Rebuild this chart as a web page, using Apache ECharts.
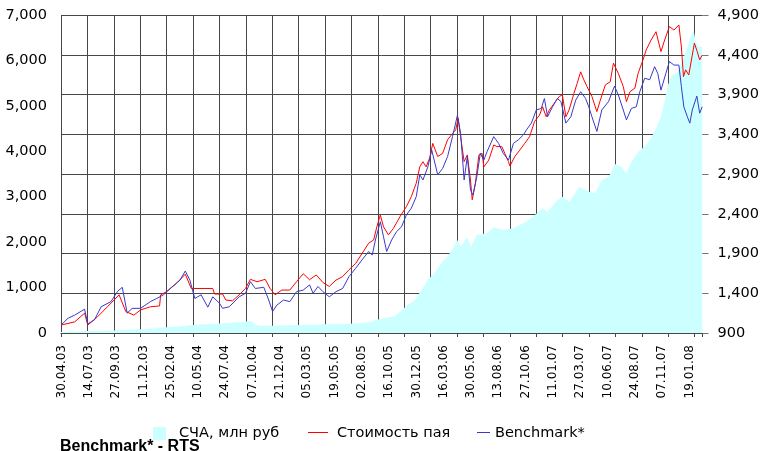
<!DOCTYPE html>
<html>
<head>
<meta charset="utf-8">
<title>СЧА и стоимость пая</title>
<script src="https://cdn.jsdelivr.net/npm/echarts@6/dist/echarts.min.js"></script>
<style>
    html, body { margin: 0; padding: 0; background: #fff; }
    #chart { width: 762px; height: 451px; }
</style>
</head>
<body>
<div id="chart"></div>
<script>
// tick labels, one every 75 days from 30.04.03
var tickLabels = ["30.04.03", "14.07.03", "27.09.03", "11.12.03", "25.02.04", "10.05.04",
    "24.07.04", "07.10.04", "21.12.04", "05.03.05", "19.05.05", "02.08.05", "16.10.05",
    "30.12.05", "16.03.06", "30.05.06", "13.08.06", "27.10.06", "11.01.07", "27.03.07",
    "10.06.07", "24.08.07", "07.11.07", "19.01.08"];

// СЧА, млн руб (left axis); x = days since 30.04.03
var navDays = [0, 40, 75, 110, 150, 190, 230, 260, 300, 340, 375, 410, 450, 490, 520, 540, 550, 560,
    600, 650, 700, 750, 800, 850, 880, 893, 921, 949, 968, 985, 1005, 1024, 1041, 1061, 1080, 1097,
    1111, 1125, 1136, 1153, 1164, 1181, 1209, 1229, 1256, 1285, 1321, 1346, 1368, 1382, 1405, 1424,
    1444, 1472, 1500, 1517, 1536, 1556, 1573, 1592, 1606, 1620, 1640, 1657, 1676, 1690, 1704, 1713,
    1724, 1732, 1752, 1769, 1780, 1788, 1797, 1802, 1811, 1821];
var navValues = [20, 35, 45, 50, 55, 70, 85, 100, 125, 150, 175, 195, 210, 230, 250, 265, 200, 160,
    160, 170, 180, 190, 200, 215, 240, 285, 330, 375, 505, 615, 725, 945, 1165, 1320, 1535, 1680,
    1825, 2045, 1900, 2120, 1900, 2155, 2195, 2330, 2265, 2305, 2450, 2595, 2745, 2670, 2890, 3000,
    2890, 3220, 3110, 3075, 3365, 3440, 3720, 3660, 3515, 3770, 3990, 4100, 4285, 4505, 4760, 5055,
    5455, 5640, 5750, 6080, 6300, 6520, 6665, 6445, 6300, 6300];

// Стоимость пая (right axis)
var priceDays = [0, 39, 67, 76, 104, 132, 165, 184, 207, 226, 254, 280, 283, 300, 328, 353, 370, 431,
    436, 459, 468, 487, 506, 524, 538, 557, 580, 594, 608, 627, 650, 669, 688, 706, 725, 744, 762,
    781, 800, 818, 837, 855, 874, 888, 897, 907, 916, 930, 944, 963, 981, 995, 1009, 1019, 1028,
    1037, 1047, 1056, 1070, 1084, 1098, 1112, 1121, 1128, 1135, 1145, 1154, 1163, 1168, 1177, 1187,
    1196, 1201, 1215, 1229, 1238, 1252, 1271, 1275, 1289, 1303, 1317, 1331, 1345, 1359, 1368, 1378,
    1387, 1401, 1415, 1424, 1434, 1443, 1457, 1466, 1476, 1485, 1494, 1508, 1522, 1532, 1546, 1560,
    1569, 1583, 1597, 1606, 1616, 1630, 1639, 1653, 1662, 1676, 1690, 1704, 1713, 1728, 1741, 1755,
    1762, 1768, 1774, 1783, 1793, 1799, 1807, 1814, 1821];
var priceValues = [1000, 1040, 1150, 1000, 1105, 1230, 1380, 1170, 1125, 1190, 1230, 1240, 1380, 1420,
    1525, 1640, 1460, 1460, 1390, 1390, 1315, 1305, 1380, 1460, 1575, 1545, 1575, 1460, 1380, 1440,
    1440, 1545, 1645, 1570, 1630, 1535, 1485, 1565, 1610, 1695, 1775, 1900, 2030, 2070, 2235, 2385,
    2235, 2135, 2215, 2365, 2490, 2615, 2785, 2990, 3055, 2990, 3100, 3285, 3120, 3160, 3330, 3410,
    3455, 3600, 3370, 3055, 3140, 2825, 2575, 2785, 3140, 3160, 2990, 3075, 3265, 3245, 3245, 3055,
    3000, 3120, 3200, 3285, 3370, 3560, 3640, 3745, 3620, 3705, 3790, 3875, 3895, 3620, 3705, 3915,
    4040, 4185, 4085, 4000, 3875, 3685, 3830, 4020, 4060, 4295, 4165, 4000, 3810, 3935, 3980, 4165,
    4335, 4460, 4585, 4690, 4440, 4565, 4755, 4710, 4775, 4500, 4125, 4210, 4145, 4395, 4545, 4440,
    4335, 4395];

// Benchmark* (right axis)
var benchDays = [0, 20, 39, 67, 76, 95, 114, 142, 160, 174, 188, 202, 226, 254, 272, 291, 310, 338,
    353, 366, 380, 398, 417, 431, 450, 459, 478, 506, 524, 538, 552, 576, 590, 601, 613, 632, 650,
    669, 688, 706, 716, 730, 744, 762, 781, 800, 818, 837, 855, 874, 884, 893, 907, 916, 925, 939,
    953, 967, 981, 995, 1009, 1019, 1028, 1042, 1053, 1070, 1084, 1098, 1112, 1126, 1135, 1145, 1154,
    1163, 1170, 1181, 1191, 1201, 1210, 1229, 1243, 1256, 1271, 1285, 1299, 1313, 1322, 1336, 1350,
    1364, 1373, 1382, 1396, 1410, 1420, 1434, 1448, 1462, 1476, 1490, 1499, 1508, 1522, 1536, 1555,
    1572, 1583, 1597, 1606, 1620, 1634, 1644, 1658, 1672, 1686, 1695, 1704, 1718, 1728, 1741, 1755,
    1762, 1769, 1779, 1786, 1793, 1806, 1814, 1821];
var benchValues = [1000, 1085, 1125, 1200, 1015, 1065, 1230, 1295, 1420, 1475, 1150, 1210, 1210, 1295,
    1335, 1380, 1460, 1565, 1680, 1565, 1335, 1380, 1225, 1355, 1275, 1210, 1230, 1355, 1400, 1545,
    1460, 1475, 1315, 1170, 1250, 1315, 1295, 1420, 1440, 1505, 1400, 1485, 1420, 1355, 1420, 1460,
    1610, 1715, 1820, 1925, 1880, 2070, 2300, 2110, 1925, 2070, 2175, 2235, 2385, 2470, 2615, 2890,
    2825, 2990, 3200, 2890, 2970, 3120, 3370, 3640, 3410, 2825, 3120, 2700, 2635, 2865, 3160, 3075,
    3180, 3370, 3285, 3160, 3075, 3285, 3330, 3390, 3455, 3540, 3705, 3725, 3850, 3620, 3745, 3850,
    3810, 3540, 3620, 3830, 3935, 3850, 3745, 3620, 3435, 3705, 3810, 4005, 3895, 3705, 3580, 3725,
    3745, 3935, 4105, 4085, 4250, 4165, 3955, 4165, 4315, 4270, 4270, 4000, 3745, 3620, 3540, 3705,
    3880, 3665, 3745];

function pairs(xs, ys) {
    return xs.map(function (x, i) { return [x, ys[i]]; });
}

var labelFont = "DejaVu Sans";
var lineGray = "#474747";
var priceColor = "#ff0000";
var benchColor = "#3a3ac8";
var navColor = "#ccffff";

var myChart = echarts.init(document.getElementById("chart"), null, { renderer: "canvas" });

var legendText = { fontFamily: labelFont, fontSize: 14.5, lineHeight: 13, color: "#000" };

var option = {
    animation: false,
    color: [navColor, priceColor, benchColor],
    grid: [
        { left: 61, top: 15, width: 651, height: 318 },
        // second grid only carries the date labels, spaced slightly wider than the grid lines
        { left: 61.5, top: 15, width: 628, height: 318 }
    ],
    xAxis: [
        {
            gridIndex: 0, type: "value", min: 0, max: 1822, interval: 75,
            axisLine: { show: true, onZero: false, lineStyle: { color: lineGray } },
            axisTick: { show: true, length: 4, lineStyle: { color: lineGray } },
            splitLine: { show: true, showMaxLine: false, lineStyle: { color: lineGray, width: 1 } },
            axisLabel: { show: false }
        },
        {
            gridIndex: 1, type: "value", min: 0, max: 1725, interval: 75,
            axisLine: { show: false }, axisTick: { show: false }, splitLine: { show: false },
            axisLabel: {
                rotate: 90, margin: 12, color: "#000", fontFamily: labelFont, fontSize: 12,
                formatter: function (v) {
                    return v % 75 === 0 && tickLabels[v / 75] ? tickLabels[v / 75] : "";
                }
            }
        }
    ],
    yAxis: [
        {
            gridIndex: 0, type: "value", min: 0, max: 7000, interval: 1000, position: "left",
            axisLine: { show: false }, axisTick: { show: false }, splitLine: { show: false },
            axisLabel: {
                margin: 14, color: "#000", fontFamily: labelFont, fontSize: 14.5,
                formatter: function (v) { return v.toLocaleString("en-US"); }
            }
        },
        {
            gridIndex: 0, type: "value", min: 900, max: 4900, interval: 500, position: "right",
            axisLine: { show: false },
            axisTick: { show: true, length: 6, lineStyle: { color: "#777" } },
            splitLine: { show: true, lineStyle: { color: lineGray, width: 1 } },
            axisLabel: {
                margin: 15, color: "#000", fontFamily: labelFont, fontSize: 14.5,
                formatter: function (v) { return v.toLocaleString("en-US"); }
            }
        },
        { gridIndex: 1, type: "value", min: 0, max: 1, show: false }
    ],
    legend: [
        {
            data: ["СЧА, млн руб"], left: 153, top: 426, padding: 0, icon: "rect",
            itemWidth: 13, itemHeight: 13, selectedMode: false,
            textStyle: Object.assign({ padding: [0, 0, 0, 8] }, legendText)
        },
        {
            data: ["Стоимость пая"], left: 308, top: 426, padding: 0,
            icon: "rect", itemWidth: 20, itemHeight: 13, selectedMode: false,
            itemStyle: { opacity: 0 },
            textStyle: Object.assign({ padding: [0, 0, 0, 4] }, legendText)
        },
        {
            data: ["Benchmark*"], left: 477, top: 426, padding: 0,
            icon: "rect", itemWidth: 13, itemHeight: 13, selectedMode: false,
            itemStyle: { opacity: 0 },
            textStyle: legendText
        }
    ],
    graphic: [
        // line keys for the two line series (the legend's own icons are transparent)
        { type: "line", shape: { x1: 308, y1: 432.5, x2: 328, y2: 432.5 }, style: { stroke: priceColor, lineWidth: 1 } },
        { type: "line", shape: { x1: 477, y1: 432.5, x2: 490, y2: 432.5 }, style: { stroke: benchColor, lineWidth: 1 } },
        {
            type: "text", left: 60, top: 439,
            style: { text: "Benchmark* - RTS", font: 'bold 16px "Liberation Sans"', fill: "#000" }
        }
    ],
    series: [
        {
            name: "СЧА, млн руб", type: "line", xAxisIndex: 0, yAxisIndex: 0,
            data: pairs(navDays, navValues), showSymbol: false, symbol: "none",
            itemStyle: { color: navColor },
            lineStyle: { width: 0, color: navColor },
            areaStyle: { color: navColor, opacity: 1 }
        },
        {
            name: "Стоимость пая", type: "line", xAxisIndex: 0, yAxisIndex: 1,
            data: pairs(priceDays, priceValues), showSymbol: false, symbol: "none",
            itemStyle: { color: priceColor },
            lineStyle: { width: 1, color: priceColor }
        },
        {
            name: "Benchmark*", type: "line", xAxisIndex: 0, yAxisIndex: 1,
            data: pairs(benchDays, benchValues), showSymbol: false, symbol: "none",
            itemStyle: { color: benchColor },
            lineStyle: { width: 1, color: benchColor }
        }
    ]
};

myChart.setOption(option);
window.addEventListener("resize", myChart.resize);
</script>
</body>
</html>
